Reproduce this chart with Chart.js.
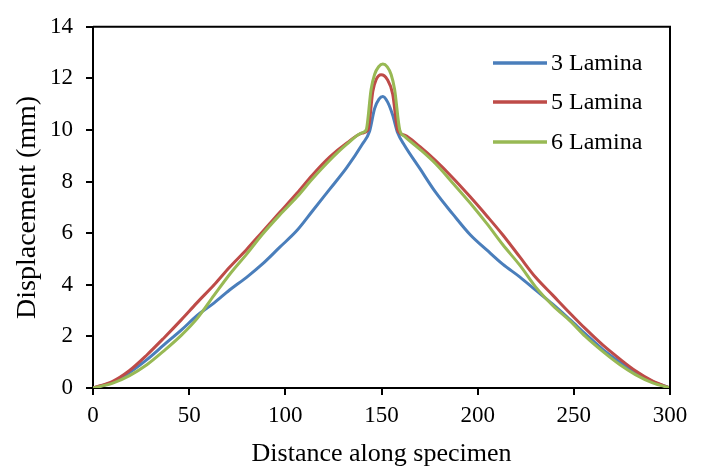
<!DOCTYPE html>
<html>
<head>
<meta charset="utf-8">
<script src="https://cdn.jsdelivr.net/npm/chart.js@4.4.1/dist/chart.umd.min.js"></script>
<style>
  html, body { margin: 0; padding: 0; background: #fff; }
  #wrap { width: 705px; height: 468px; }
</style>
</head>
<body>
<div id="wrap"><canvas id="c" width="705" height="468"></canvas></div>
<script>
// displacement along specimen (each series has its own x samples)
const dist3 = [0, 10, 19, 28, 37, 46, 54, 63, 71, 80, 88, 97, 106, 114, 123, 132, 140,
  143.8, 146.4, 148.7, 150.7, 153.2, 155.8, 158.4,
  162, 170, 178, 187, 196, 205, 213, 222, 230, 239, 248, 256, 265, 274, 282, 291, 300];
const lamina3 = [0, 0.22, 0.6, 1.1, 1.68, 2.25, 2.8, 3.3, 3.8, 4.3, 4.8, 5.45, 6.1, 6.85, 7.7, 8.55, 9.45,
  9.95, 10.83, 11.2, 11.3, 11.08, 10.58, 9.89,
  9.4, 8.5, 7.6, 6.75, 5.95, 5.33, 4.8, 4.3, 3.8, 3.25, 2.65, 2.1, 1.5, 1.0, 0.62, 0.25, 0];

const dist5 = [0, 10, 19, 28, 37, 46, 54, 63, 71, 80, 88, 97, 106, 114, 123, 132, 140,
  143, 145.5, 147.2, 149.8, 153, 155.8, 158.5,
  162, 170, 178, 187, 196, 205, 213, 222, 230, 239, 248, 256, 265, 274, 282, 291, 300];
const lamina5 = [0, 0.25, 0.68, 1.28, 1.95, 2.65, 3.3, 4.0, 4.68, 5.38, 6.05, 6.8, 7.55, 8.25, 8.95, 9.5, 9.88,
  10.0, 11.5, 11.95, 12.14, 11.96, 11.4, 9.98,
  9.8, 9.35, 8.82, 8.15, 7.42, 6.65, 5.94, 5.07, 4.3, 3.6, 2.9, 2.3, 1.67, 1.12, 0.67, 0.27, 0];

const dist6 = [0, 10, 19, 28, 37, 46, 54, 63, 71, 80, 88, 97, 106, 114, 123, 132, 140,
  142, 144.6, 146.4, 148.5, 150.7, 153, 155, 156.8, 159.5,
  162, 170, 178, 187, 196, 205, 213, 222, 230, 239, 248, 256, 265, 274, 282, 291, 300];
const lamina6 = [0, 0.18, 0.48, 0.9, 1.45, 2.05, 2.68, 3.6, 4.4, 5.2, 5.95, 6.7, 7.4, 8.1, 8.82, 9.45, 9.9,
  10.0, 11.58, 12.15, 12.45, 12.56, 12.45, 12.15, 11.58, 10.0,
  9.75, 9.25, 8.7, 7.95, 7.18, 6.35, 5.56, 4.75, 3.93, 3.2, 2.6, 2.0, 1.42, 0.9, 0.52, 0.2, 0];

const seriesNames = ["3 Lamina", "5 Lamina", "6 Lamina"];
const seriesColors = ["#4A7EBB", "#BE4B48", "#98B954"];
const xTicks = [0, 50, 100, 150, 200, 250, 300];
const yTicks = [0, 2, 4, 6, 8, 10, 12, 14];

const FONT = "'Liberation Serif', 'Times New Roman', serif";

function pts(xs, ys) { return xs.map((d, i) => ({ x: d, y: ys[i] })); }

// box around plot + legend inside plot area
const frameAndLegend = {
  id: "frameAndLegend",
  afterDraw(chart) {
    const { ctx, chartArea: a } = chart;
    ctx.save();
    ctx.strokeStyle = "#000";
    ctx.lineWidth = 2;
    ctx.beginPath();
    ctx.moveTo(a.left, a.top); ctx.lineTo(a.right, a.top); ctx.lineTo(a.right, a.bottom);
    ctx.stroke();

    ctx.font = "24px " + FONT;
    ctx.textBaseline = "middle";
    ctx.fillStyle = "#000";
    const ys = [63, 102, 142];
    seriesNames.forEach((name, i) => {
      ctx.strokeStyle = seriesColors[i];
      ctx.lineWidth = 3.5;
      ctx.beginPath();
      ctx.moveTo(493, ys[i]); ctx.lineTo(547, ys[i]);
      ctx.stroke();
      ctx.fillText(name, 551, ys[i] + 1);
    });
    ctx.restore();
  }
};

const datasets = [[dist3, lamina3], [dist5, lamina5], [dist6, lamina6]].map(([xs, vals], i) => ({
  label: seriesNames[i],
  data: pts(xs, vals),
  borderColor: seriesColors[i],
  backgroundColor: seriesColors[i],
  borderWidth: 3,
  pointRadius: 0,
  cubicInterpolationMode: "monotone",
  order: 2 - i
}));

new Chart(document.getElementById("c").getContext("2d"), {
  type: "line",
  data: { datasets },
  options: {
    responsive: false,
    animation: false,
    events: [],
    layout: { padding: { left: 0, right: 35, top: 16, bottom: 0 } },
    plugins: { legend: { display: false }, tooltip: { enabled: false } },
    scales: {
      x: {
        type: "linear",
        min: 0, max: 300,
        afterBuildTicks: s => { s.ticks = xTicks.map(v => ({ value: v })); },
        afterFit: s => { s.height = 80; },
        grid: { drawOnChartArea: false, drawTicks: true, tickLength: 7, color: "#000", lineWidth: 2 },
        border: { display: true, color: "#000", width: 2 },
        ticks: { color: "#000", font: { family: FONT, size: 23 }, padding: 7, maxRotation: 0 },
        title: { display: true, text: "Distance along specimen", color: "#000",
          font: { family: FONT, size: 26, lineHeight: 1 }, padding: { top: 0, bottom: 1 } }
      },
      y: {
        min: 0, max: 14,
        afterBuildTicks: s => { s.ticks = yTicks.map(v => ({ value: v })); },
        afterFit: s => { s.width = 93; },
        grid: { drawOnChartArea: false, drawTicks: true, tickLength: 7, color: "#000", lineWidth: 2 },
        border: { display: true, color: "#000", width: 2 },
        ticks: { color: "#000", font: { family: FONT, size: 23 }, padding: 13 },
        title: { display: true, text: "Displacement (mm)", color: "#000",
          font: { family: FONT, size: 28, lineHeight: 1 }, padding: { top: 14, bottom: 0 } }
      }
    }
  },
  plugins: [frameAndLegend]
});
</script>
</body>
</html>
